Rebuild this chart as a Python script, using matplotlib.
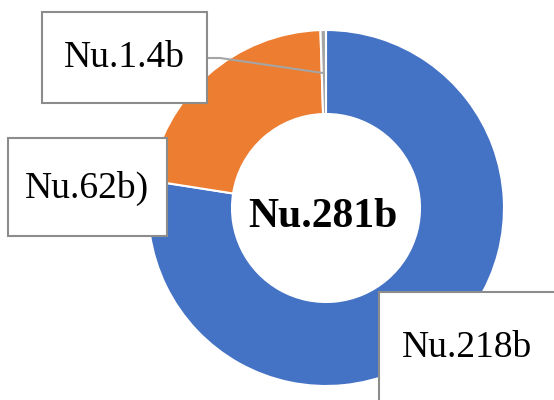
import matplotlib
matplotlib.use('Agg')
import matplotlib.pyplot as plt
from matplotlib.patches import Rectangle

## Data (billions):
segments = ['Blue', 'Orange', 'Grey']
values = [218, 62, 1.4]
labels = ['Nu.218b', 'Nu.62b)', 'Nu.1.4b']
total_label = 'Nu.281b'
colors = ['#4472C4', '#ED7D31', '#A5A5A5']

plt.rcParams['font.family'] = ['Liberation Serif', 'DejaVu Serif']

fig = plt.figure(figsize=(5.54, 4), dpi=100)
ax = fig.add_axes([0, 0, 1, 1])
ax.set_xlim(0, 554)
ax.set_ylim(0, 400)
ax.set_aspect('equal')
ax.axis('off')

# donut, first slice from 12 o'clock going clockwise
cx, cy, r = 326, 192, 178
ax.pie(values, colors=colors, startangle=90, counterclock=False,
       center=(cx, cy), radius=r, frame=True,
       wedgeprops=dict(width=84, edgecolor='white', linewidth=1.5))
ax.set_xlim(0, 554)
ax.set_ylim(0, 400)
ax.axis('off')

ax.text(cx - 3, 183, total_label, ha='center', va='center',
        fontsize=30, fontweight='bold')

# leader line for the tiny slice
ax.plot([207, 220, 323], [342, 342, 327], color='#A5A5A5', lw=1.5, zorder=3)

# label boxes (x0, y0, w, h) in pixel coords, y from bottom
boxes = [(379, -20, 200, 128), (8, 164, 159, 98), (42, 297, 165, 91)]
text_pos = [(467, 52), (87, 212), (124, 342)]
for (x0, y0, w, h), (tx, ty), lab in zip(boxes, text_pos, labels):
    ax.add_patch(Rectangle((x0, y0), w, h, facecolor='white',
                           edgecolor='#8C8C8C', lw=1.5, zorder=4))
    ax.text(tx, ty, lab, ha='center', va='center', fontsize=27, zorder=5)

fig.savefig('out.png', dpi=100)
